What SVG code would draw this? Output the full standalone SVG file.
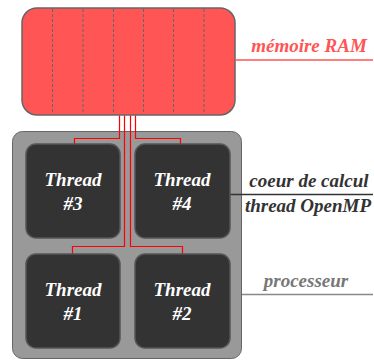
<svg xmlns="http://www.w3.org/2000/svg" width="374" height="360" viewBox="0 0 374 360">
<style>
.lbl{font-family:"Liberation Serif","Times New Roman",serif;font-weight:bold;font-style:italic;font-size:19px;text-anchor:middle}
.th{fill:#333;stroke:#555;stroke-width:1.5}
.tt{fill:#fff}
.wire{fill:none;stroke:#f00;stroke-width:1.2}
.dash{stroke:#666;stroke-width:1;stroke-dasharray:3,2}
</style>
<rect width="374" height="360" fill="#fff"/>
<g id="processeur">
<rect x="12.5" y="131.5" width="229" height="227" rx="10" fill="#999" stroke="#666" stroke-width="1"/>
</g>
<g id="ram">
<rect x="22" y="8" width="213" height="107" rx="15" fill="#ff5555" stroke="#666" stroke-width="1.5"/>
<line class="dash" x1="52.5" y1="9" x2="52.5" y2="114"/>
<line class="dash" x1="83" y1="9" x2="83" y2="114"/>
<line class="dash" x1="113.5" y1="9" x2="113.5" y2="114"/>
<line class="dash" x1="143.5" y1="9" x2="143.5" y2="114"/>
<line class="dash" x1="173.5" y1="9" x2="173.5" y2="114"/>
<line class="dash" x1="204" y1="9" x2="204" y2="114"/>
</g>
<g id="connectors">
<polyline class="wire" points="119.5,115.5 119.5,138.5 74.5,138.5 74.5,144"/>
<polyline class="wire" points="135.5,115.5 135.5,138.5 180.5,138.5 180.5,144"/>
<polyline class="wire" points="124.5,115.5 124.5,246.5 72.5,246.5 72.5,254"/>
<polyline class="wire" points="130.5,115.5 130.5,246.5 182.5,246.5 182.5,254"/>
<line x1="235" y1="60" x2="373" y2="60" stroke="#f55" stroke-width="1.5"/>
<line x1="230" y1="194.5" x2="373" y2="194.5" stroke="#333" stroke-width="1.5"/>
<line x1="242" y1="294.5" x2="373" y2="294.5" stroke="#888" stroke-width="1.5"/>
</g>
<g id="thread3">
<rect class="th" x="26" y="144" width="94" height="94" rx="10"/>
<text class="lbl tt" x="73" y="186">Thread</text>
<text class="lbl tt" x="73" y="210">#3</text>
</g>
<g id="thread4">
<rect class="th" x="135" y="144" width="95" height="94" rx="10"/>
<text class="lbl tt" x="182" y="186">Thread</text>
<text class="lbl tt" x="182" y="210">#4</text>
</g>
<g id="thread1">
<rect class="th" x="26" y="254" width="94" height="94" rx="10"/>
<text class="lbl tt" x="73" y="296">Thread</text>
<text class="lbl tt" x="73" y="320">#1</text>
</g>
<g id="thread2">
<rect class="th" x="135" y="254" width="95" height="94" rx="10"/>
<text class="lbl tt" x="182" y="296">Thread</text>
<text class="lbl tt" x="182" y="320">#2</text>
</g>
<g id="labels">
<text class="lbl" x="309" y="52" fill="#f55">mémoire RAM</text>
<text class="lbl" x="309" y="187" fill="#333">coeur de calcul</text>
<text class="lbl" x="308" y="212" fill="#333">thread OpenMP</text>
<text class="lbl" x="306" y="287" fill="#777">processeur</text>
</g>
</svg>
